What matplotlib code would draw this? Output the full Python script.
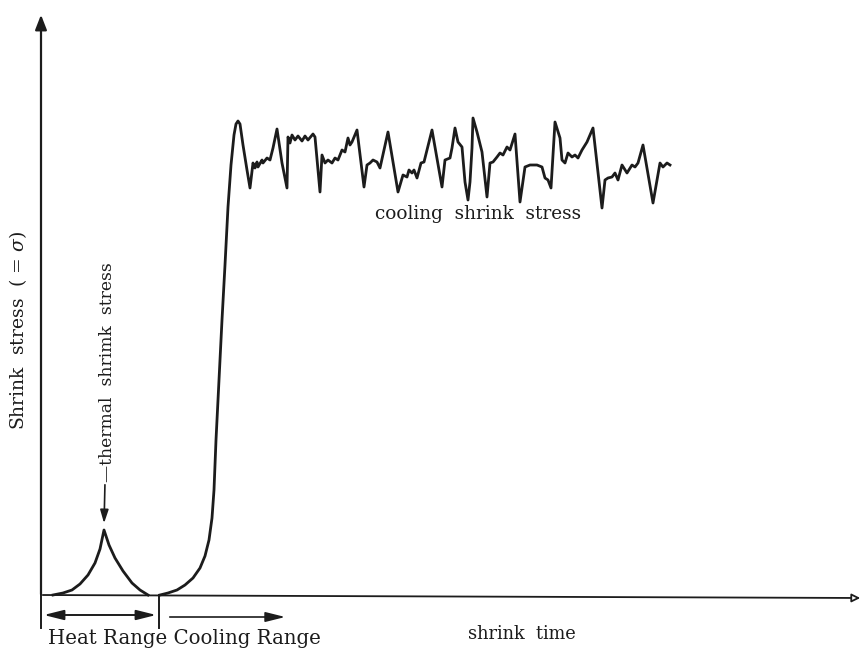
import matplotlib.pyplot as plt
import numpy as np

plt.rcParams['font.family'] = ['DejaVu Serif']
plt.rcParams['mathtext.fontset'] = 'dejavuserif'

# stress trace, in sketch units (x = time, y = stress measured downward from top)
heat_x = [53, 63, 72, 80, 88, 95, 100, 104, 109, 115, 123, 132, 140, 148]
heat_y = [595, 593, 590, 584, 575, 563, 549, 530, 545, 558, 571, 583, 590, 595]

rise_x = [160, 168, 177, 185, 193, 200, 205, 209, 212, 214, 216, 219, 222, 225, 228, 231, 234, 236]
rise_y = [595, 593, 590, 585, 578, 568, 556, 540, 518, 490, 440, 380, 320, 265, 207, 165, 135, 124]

plateau_x = [238, 240, 243, 247, 250, 253, 255, 257, 258, 262, 263, 267, 270, 273, 277, 282, 287,
             288, 290, 292, 295, 298, 302, 305, 308, 313, 315, 320, 322, 325, 328, 332, 335, 338,
             342, 345, 348, 350, 352, 357, 364, 367, 370, 373, 377, 380, 388, 398, 403, 407, 409,
             412, 414, 417, 421, 424, 432, 442, 445, 450, 452, 455, 458, 462, 465, 468, 470, 472,
             473, 477, 482, 487, 490, 493, 497, 500, 503, 507, 510, 515, 520, 525, 530, 537, 542,
             545, 548, 551, 555, 560, 562, 565, 568, 572, 575, 578, 582, 587, 593, 602, 605, 608,
             612, 615, 618, 622, 627, 632, 635, 638, 643, 653, 660, 663, 667, 670]
plateau_y = [121, 124, 145, 170, 188, 163, 168, 162, 167, 160, 163, 158, 160, 148, 129, 163, 188,
             137, 143, 135, 140, 136, 141, 136, 140, 134, 137, 192, 155, 163, 160, 163, 158, 160,
             150, 152, 138, 145, 142, 130, 187, 165, 163, 160, 162, 168, 132, 192, 175, 177, 170,
             173, 170, 178, 163, 162, 130, 187, 160, 158, 148, 128, 142, 147, 182, 200, 182, 148,
             118, 132, 152, 197, 163, 162, 157, 153, 155, 147, 150, 134, 202, 167, 165, 165, 167,
             178, 180, 188, 122, 138, 160, 163, 153, 157, 155, 158, 150, 142, 128, 208, 180, 178,
             177, 173, 180, 165, 173, 165, 167, 163, 145, 203, 163, 167, 163, 165]

# range markers below the time axis
heat_range = [41, 159]
cooling_range = [167, 288]

fig = plt.figure(figsize=(8.65, 6.5), dpi=100)
ax = fig.add_axes([0, 0, 1, 1])
ax.set_xlim(0, 865)
ax.set_ylim(650, 0)
ax.axis('off')

ink = '#1c1c1c'

# axes drawn as arrows
ax.annotate('', xy=(41, 12), xytext=(41, 597),
            arrowprops=dict(arrowstyle='-|>,head_length=0.9,head_width=0.35', color=ink, lw=1.6))
ax.annotate('', xy=(863, 598), xytext=(40, 595),
            arrowprops=dict(arrowstyle='-|>,head_length=0.5,head_width=0.25', edgecolor=ink,
                            facecolor='white', lw=1.3))

# stress curves
ax.plot(heat_x, heat_y, color=ink, lw=2.0, solid_joinstyle='round')
ax.plot(rise_x + plateau_x, rise_y + plateau_y, color=ink, lw=2.0, solid_joinstyle='round')

# range brackets
ax.plot([heat_range[0], heat_range[0]], [595, 628], color=ink, lw=1.4)
ax.plot([heat_range[1], heat_range[1]], [595, 628], color=ink, lw=1.4)
ax.annotate('', xy=(heat_range[0], 615), xytext=(heat_range[1], 615),
            arrowprops=dict(arrowstyle='<|-|>,head_length=1.2,head_width=0.3', color=ink, lw=1.4))
ax.annotate('', xy=(cooling_range[1], 617), xytext=(cooling_range[0], 617),
            arrowprops=dict(arrowstyle='-|>,head_length=1.2,head_width=0.3', color=ink, lw=1.2))

# labels
ax.text(48, 638, 'Heat Range Cooling Range', fontsize=14.2, color=ink, ha='left', va='center')
ax.text(468, 634, 'shrink  time', fontsize=12.8, color=ink, ha='left', va='center')
ax.text(375, 214, 'cooling  shrink  stress', fontsize=13.3, color=ink, ha='left', va='center')
ax.text(18, 330, r'Shrink  stress  ( = $\sigma$)', fontsize=13.5, color=ink, rotation=90,
        ha='center', va='center')
ax.text(108, 482, '—thermal  shrimk  stress', fontsize=12.3, color=ink, rotation=90,
        ha='center', va='bottom')
ax.annotate('', xy=(104, 526), xytext=(105, 482),
            arrowprops=dict(arrowstyle='-|>,head_length=0.8,head_width=0.25', color=ink, lw=1.2))

fig.savefig('out.png', dpi=100, facecolor='white')
